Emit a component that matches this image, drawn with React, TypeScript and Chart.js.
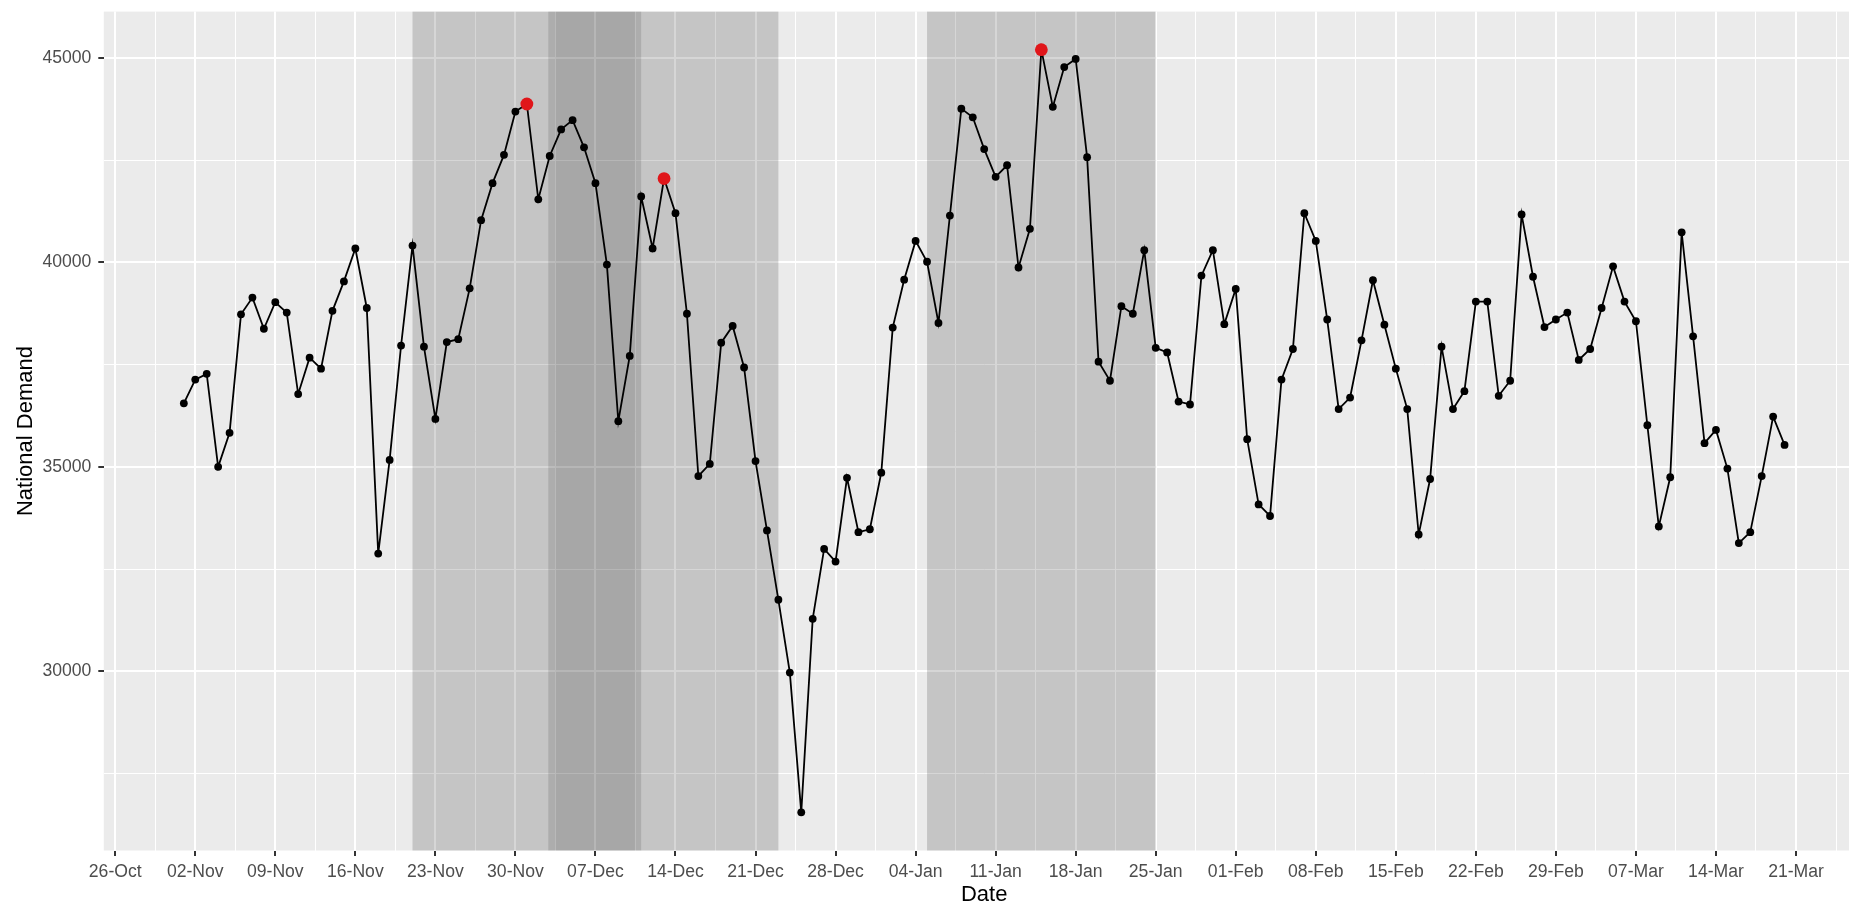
import React, { useEffect, useRef } from 'react';
import { Chart, registerables } from 'chart.js';

Chart.register(...registerables);

// ---- data (National Demand, daily) ----
const novDemand = [36554, 37133, 37274, 35000, 35833, 38729, 39138, 38376, 39025, 38771, 36780, 37670, 37401, 38814, 39534, 40339, 38884, 32881, 35169, 37966, 40410, 37938, 36172, 38051, 38122, 39364, 41031, 41935, 42627, 43686];
const decDemand = [43870, 41540, 42599, 43249, 43475, 42811, 41935, 39944, 36116, 37712, 41610, 40339, 42048, 41201, 38743, 34774, 35071, 38037, 38446, 37429, 35141, 33446, 31751, 29972, 26554, 31285, 32994, 32684, 34732, 33404, 33475];
const janDemand = [34859, 38404, 39576, 40523, 40014, 38517, 41144, 43757, 43545, 42768, 42090, 42373, 39873, 40819, 45198, 43800, 44774, 44972, 42571, 37571, 37105, 38927, 38743, 40297, 37910, 37797, 36596, 36525, 39675, 40297, 38489];
const febDemand = [39350, 35678, 34082, 33799, 37133, 37881, 41201, 40523, 38602, 36412, 36695, 38093, 39562, 38475, 37401, 36412, 33347, 34703, 37938, 36412, 36850, 39040, 39040, 36737, 37105, 41172, 39647, 38418, 38602];
const marDemand = [38771, 37613, 37881, 38884, 39901, 39040, 38559, 36017, 33545, 34746, 40734, 38192, 35579, 35904, 34958, 33136, 33404, 34774, 36229, 35537];

const monthStarts = ['2019-11-01', '2019-12-01', '2020-01-01', '2020-02-01', '2020-03-01'];
const monthSeries = [novDemand, decDemand, janDemand, febDemand, marDemand];

const highlightDates = ['2019-12-01', '2019-12-13', '2020-01-15'];

const shadePeriods = [
  ['2019-11-21', '2019-12-23'],
  ['2019-12-02 21:00', '2019-12-11 00:00'],
  ['2019-12-03 12:00', '2019-12-10 11:00'],
  ['2020-01-05', '2020-01-25'],
];

const originDate = '2019-10-26';
const xTickLabels = ['26-Oct', '02-Nov', '09-Nov', '16-Nov', '23-Nov', '30-Nov', '07-Dec', '14-Dec', '21-Dec', '28-Dec', '04-Jan', '11-Jan', '18-Jan', '25-Jan', '01-Feb', '08-Feb', '15-Feb', '22-Feb', '29-Feb', '07-Mar', '14-Mar', '21-Mar'];
const yTickValues = [30000, 35000, 40000, 45000];
const yMinorValues = [27500, 32500, 37500, 42500];

// ---- styles ----
const shadeFills = ['rgba(0,0,0,0.16)', 'rgba(0,0,0,0.12)', 'rgba(0,0,0,0.03)', 'rgba(0,0,0,0.16)'];
const FONT = "'Liberation Sans', Arial, Helvetica, sans-serif";

function toUTC(s: string): number {
  const m = s.match(/(\d+)-(\d+)-(\d+)(?:[ T](\d+):(\d+))?/)!;
  return Date.UTC(+m[1], +m[2] - 1, +m[3], m[4] ? +m[4] : 0, m[5] ? +m[5] : 0);
}
const ORIGIN = toUTC(originDate);
const toDay = (s: string) => (toUTC(s) - ORIGIN) / 86400000;

const points: { x: number; y: number }[] = [];
monthStarts.forEach((ms, k) => {
  const start = toDay(ms);
  monthSeries[k].forEach((v, i) => points.push({ x: start + i, y: v }));
});
const highlightPoints = highlightDates.map((d) => {
  const x = toDay(d);
  const p = points.find((q) => q.x === x)!;
  return { x, y: p.y };
});

const panelPlugin = {
  id: 'panelBg',
  beforeDraw(chart: any) {
    const { ctx, chartArea: a } = chart;
    ctx.save();
    ctx.fillStyle = '#EBEBEB';
    ctx.fillRect(a.left, a.top, a.right - a.left, a.bottom - a.top);
    ctx.restore();
  },
  beforeDatasetsDraw(chart: any) {
    const { ctx, chartArea: a } = chart;
    const xs = chart.scales.x;
    ctx.save();
    shadePeriods.forEach(([s, e], i) => {
      const x0 = xs.getPixelForValue(toDay(s));
      const x1 = xs.getPixelForValue(toDay(e));
      ctx.fillStyle = shadeFills[i];
      ctx.fillRect(x0, a.top, x1 - x0, a.bottom - a.top);
    });
    ctx.restore();
  },
};

const gridOpts = {
  color: '#FFFFFF',
  lineWidth: (c: any) => (c.tick && c.tick.minor ? 1 : 2),
  drawTicks: true,
  tickLength: 5.5,
  tickColor: (c: any) => (c.tick && c.tick.minor ? 'rgba(0,0,0,0)' : '#333333'),
  tickWidth: (c: any) => (c.tick && c.tick.minor ? 0 : 2),
};

export default function App() {
  const ref = useRef<HTMLCanvasElement | null>(null);
  useEffect(() => {
    if (!ref.current) return;
    const chart = new Chart(ref.current, {
      type: 'line',
      data: {
        datasets: [
          {
            data: highlightPoints,
            showLine: false,
            pointRadius: 6.4,
            pointHoverRadius: 6.4,
            pointBackgroundColor: '#E0161A',
            pointBorderWidth: 0,
            borderColor: '#E0161A',
          },
          {
            data: points,
            borderColor: '#000000',
            borderWidth: 1.8,
            tension: 0,
            fill: false,
            pointRadius: 3.9,
            pointHoverRadius: 3.9,
            pointBackgroundColor: '#000000',
            pointBorderWidth: 0,
          },
        ],
      } as any,
      options: {
        animation: false,
        responsive: false,
        events: [],
        layout: { padding: { top: 11.6, left: 0, right: 0, bottom: 0 } },
        plugins: { legend: { display: false }, tooltip: { enabled: false } },
        scales: {
          x: {
            type: 'linear',
            min: -1,
            max: 153,
            afterBuildTicks: (scale: any) => {
              const t: any[] = [];
              xTickLabels.forEach((lbl, i) => t.push({ value: i * 7, lbl }));
              for (let i = 0; i < xTickLabels.length; i++) {
                const v = i * 7 + 3.5;
                if (v < 153) t.push({ value: v, lbl: '', minor: true });
              }
              t.sort((a, b) => a.value - b.value);
              scale.ticks = t;
            },
            afterFit: (scale: any) => {
              scale.height = 55.5;
              scale.paddingLeft = 0;
              scale.paddingRight = 0;
            },
            ticks: {
              autoSkip: false,
              maxRotation: 0,
              minRotation: 0,
              padding: 5.5,
              color: '#4D4D4D',
              font: { family: FONT, size: 17.6 },
              callback: function (this: any, _v: any, i: number, ticks: any[]) {
                return ticks[i].lbl;
              },
            },
            grid: gridOpts,
            border: { display: false },
            title: {
              display: true,
              text: 'Date',
              color: '#000000',
              font: { family: FONT, size: 22, lineHeight: 1 },
              padding: 0,
            },
          },
          y: {
            type: 'linear',
            min: 25622,
            max: 46129,
            afterBuildTicks: (scale: any) => {
              const t: any[] = [];
              yMinorValues.forEach((v) => t.push({ value: v, minor: true }));
              yTickValues.forEach((v) => t.push({ value: v }));
              t.sort((a, b) => a.value - b.value);
              scale.ticks = t;
            },
            afterFit: (scale: any) => {
              scale.width = 103.8;
              scale.paddingTop = 0;
              scale.paddingBottom = 0;
            },
            ticks: {
              autoSkip: false,
              padding: 6.9,
              color: '#4D4D4D',
              font: { family: FONT, size: 17.6 },
              callback: function (this: any, v: any, i: number, ticks: any[]) {
                return ticks[i].minor ? '' : String(v);
              },
            },
            grid: gridOpts,
            border: { display: false },
            title: {
              display: true,
              text: 'National Demand',
              color: '#000000',
              font: { family: FONT, size: 22, lineHeight: 1 },
              padding: { top: 15, bottom: 0 },
            },
          },
        },
      } as any,
      plugins: [panelPlugin],
    });
    return () => chart.destroy();
  }, []);

  return (
    <div style={{ position: 'fixed', left: 0, top: 0, width: 1849, height: 906, overflow: 'hidden', background: '#FFFFFF' }}>
      <canvas ref={ref} width={1871} height={906} style={{ display: 'block', width: 1871, height: 906 }} />
    </div>
  );
}
